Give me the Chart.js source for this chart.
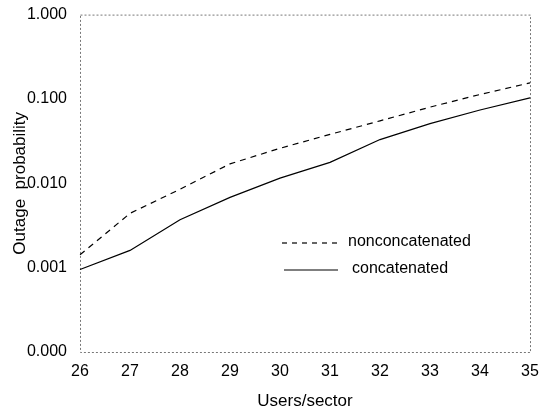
<!DOCTYPE html>
<html>
<head>
<meta charset="utf-8">
<script src="https://cdn.jsdelivr.net/npm/chart.js@4/dist/chart.umd.min.js"></script>
<style>
  body { margin: 0; background: #fff; }
  #wrap { width: 547px; height: 412px; }
</style>
</head>
<body>
<div id="wrap"><canvas id="myChart"></canvas></div>
<script>
// values
const users = [26, 27, 28, 29, 30, 31, 32, 33, 34, 35];
const nonconcatenated = [0.00142, 0.0044, 0.0085, 0.017, 0.026, 0.038, 0.055, 0.08, 0.113, 0.155];
const concatenated = [0.00095, 0.0016, 0.0037, 0.0068, 0.0115, 0.0177, 0.033, 0.051, 0.074, 0.103];
const yTicks = [0.0001, 0.001, 0.01, 0.1, 1];

const family = 'Liberation Sans, Arial, sans-serif';
const tickFont = { family: family, size: 16 };
const titleFont = { family: family, size: 17 };

// dotted frame round the plot, like the scanned original
const framePlugin = {
  id: 'frame',
  beforeDatasetsDraw(chart) {
    const { ctx, chartArea: a } = chart;
    ctx.save();
    ctx.strokeStyle = '#777';
    ctx.lineWidth = 1;
    ctx.setLineDash([2, 2]);
    ctx.strokeRect(a.left + 0.5, a.top + 0.5, a.right - a.left, a.bottom - a.top);
    ctx.restore();
  }
};

// legend sits inside the plot area
const legendPlugin = {
  id: 'innerLegend',
  afterDraw(chart) {
    const ctx = chart.ctx;
    ctx.save();
    ctx.strokeStyle = '#000';
    ctx.lineWidth = 1.2;
    ctx.fillStyle = '#000';
    ctx.font = '16px ' + family;
    ctx.textBaseline = 'middle';
    ctx.setLineDash([5, 5]);
    ctx.beginPath(); ctx.moveTo(282, 243); ctx.lineTo(337, 243); ctx.stroke();
    ctx.setLineDash([]);
    ctx.beginPath(); ctx.moveTo(284, 270); ctx.lineTo(338, 270); ctx.stroke();
    ctx.fillText('nonconcatenated', 348, 242);
    ctx.fillText('concatenated', 352, 269);
    ctx.restore();
  }
};

new Chart(document.getElementById('myChart'), {
  type: 'line',
  data: {
    labels: users,
    datasets: [
      { label: 'nonconcatenated', data: nonconcatenated, borderColor: '#000', borderWidth: 1.2,
        borderDash: [6, 5], pointRadius: 0, tension: 0, fill: false },
      { label: 'concatenated', data: concatenated, borderColor: '#000', borderWidth: 1.2,
        pointRadius: 0, tension: 0, fill: false }
    ]
  },
  options: {
    responsive: true,
    maintainAspectRatio: false,
    animation: false,
    layout: { padding: { left: 0, right: 17, top: 13, bottom: 0 } },
    scales: {
      x: {
        type: 'category',
        offset: false,
        grid: { display: false },
        border: { display: false },
        ticks: { color: '#000', font: tickFont, maxRotation: 0, padding: 2 },
        title: { display: true, text: 'Users/sector', color: '#000', font: titleFont, padding: { top: 0, bottom: 0 } },
        afterFit(scale) { scale.height = 60; }
      },
      y: {
        type: 'logarithmic',
        min: 0.0001,
        max: 1,
        grid: { display: false },
        border: { display: false },
        afterBuildTicks(scale) { scale.ticks = yTicks.map(v => ({ value: v })); },
        ticks: {
          color: '#000', font: tickFont, padding: 5,
          callback: v => Number(v).toFixed(3)
        },
        title: { display: true, text: 'Outage  probability', color: '#000', font: titleFont, padding: { top: 10, bottom: 0 } },
        afterFit(scale) { scale.width = 80; }
      }
    },
    plugins: {
      legend: { display: false },
      tooltip: { enabled: false }
    }
  },
  plugins: [framePlugin, legendPlugin]
});
</script>
</body>
</html>
